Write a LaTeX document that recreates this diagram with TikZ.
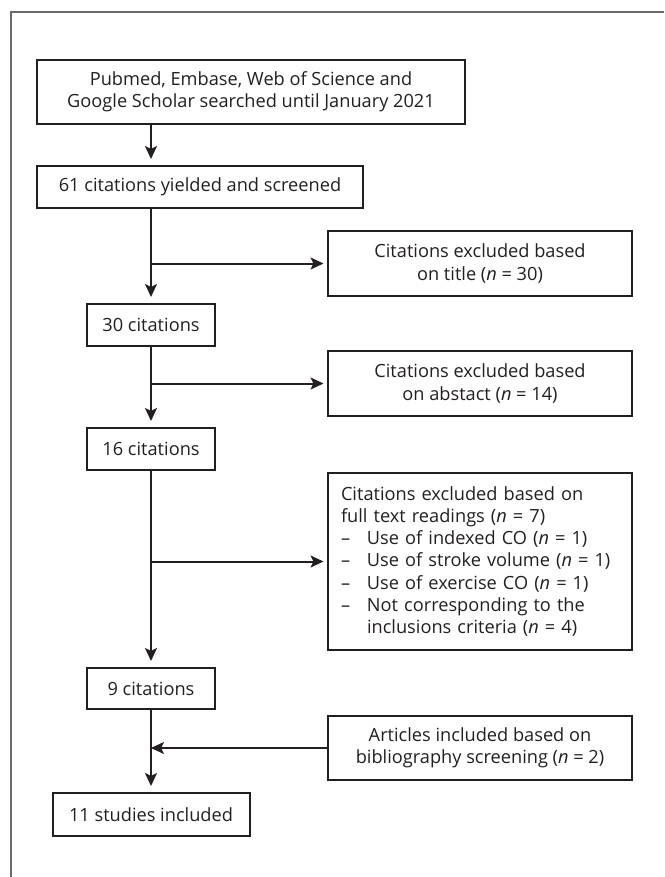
\documentclass[tikz,border=0pt]{standalone}
\usepackage{fontspec}
\setmainfont{Open Sans}
\usetikzlibrary{arrows.meta}
\definecolor{ink}{HTML}{231F20}
\definecolor{framegray}{HTML}{6A6A6A}
\begin{document}
\begin{tikzpicture}[x=1pt,y=-1pt,
  font=\fontsize{18.2}{22.2}\selectfont,
  box/.style={draw=ink, line width=2pt, text=ink, inner sep=0pt, align=center},
  arr/.style={draw=ink, line width=2pt, -{Stealth[length=13pt,width=12pt,inset=3pt]}},
  vgap/.style={shorten >=6pt},
  hgap/.style={shorten >=3.5pt}]
\useasboundingbox (0,0) rectangle (664,877);
\draw[framegray, line width=1.6pt] (11,877) -- (11,12) -- (664,12);
% main column
\node[box, minimum width=428pt, minimum height=64pt] (b1) at (251,92)
  {Pubmed, Embase, Web of Science and\\Google Scholar searched until January 2021};
\node[box, minimum width=326pt, minimum height=42pt] (b2) at (200,187)
  {61 citations yielded and screened};
\node[box, minimum width=128pt, minimum height=42pt] (b3) at (151,325) {30 citations};
\node[box, minimum width=128pt, minimum height=42pt] (b4) at (151,449) {16 citations};
\node[box, minimum width=128pt, minimum height=41pt] (b5) at (151,688.5) {9 citations};
\node[box, minimum width=197pt, minimum height=43pt] (b6) at (151,814.5) {11 studies included};
% side boxes
\node[box, minimum width=304pt, minimum height=65pt] (e1) at (480,263.5)
  {Citations excluded based\\on title (\textit{n} = 30)};
\node[box, minimum width=304pt, minimum height=65pt] (e2) at (480,383.5)
  {Citations excluded based\\on abstact (\textit{n} = 14)};
\node[box, minimum width=304pt, minimum height=177pt, text width=278pt, align=left] (e3) at (480,561.5)
  {Citations excluded based on\\
   full text readings (\textit{n} = 7)\\
   \makebox[26pt][l]{–}Use of indexed CO (\textit{n} = 1)\\
   \makebox[26pt][l]{–}Use of stroke volume (\textit{n} = 1)\\
   \makebox[26pt][l]{–}Use of exercise CO (\textit{n} = 1)\\
   \makebox[26pt][l]{–}Not corresponding to the\\
   \hspace*{26pt}inclusions criteria (\textit{n} = 4)};
\node[box, minimum width=304pt, minimum height=64pt] (a1) at (480,748)
  {Articles included based on\\bibliography screening (\textit{n} = 2)};
% connectors
\draw[arr, vgap] (b1.south -| b3.center) -- (b2.north -| b3.center);
\draw[arr, vgap] (b2.south -| b3.center) -- (b3.north);
\draw[arr, hgap] (b3.center |- e1.west) -- (e1.west);
\draw[arr, vgap] (b3.south) -- (b4.north);
\draw[arr, hgap] (b4.center |- e2.west) -- (e2.west);
\draw[arr, vgap] (b4.south) -- (b5.north);
\draw[arr, hgap] (b4.center |- e3.west) -- (e3.west);
\draw[arr, vgap] (b5.south) -- (b6.north);
\draw[arr] (a1.west) -- (b5.center |- a1.west);
\end{tikzpicture}
\end{document}
